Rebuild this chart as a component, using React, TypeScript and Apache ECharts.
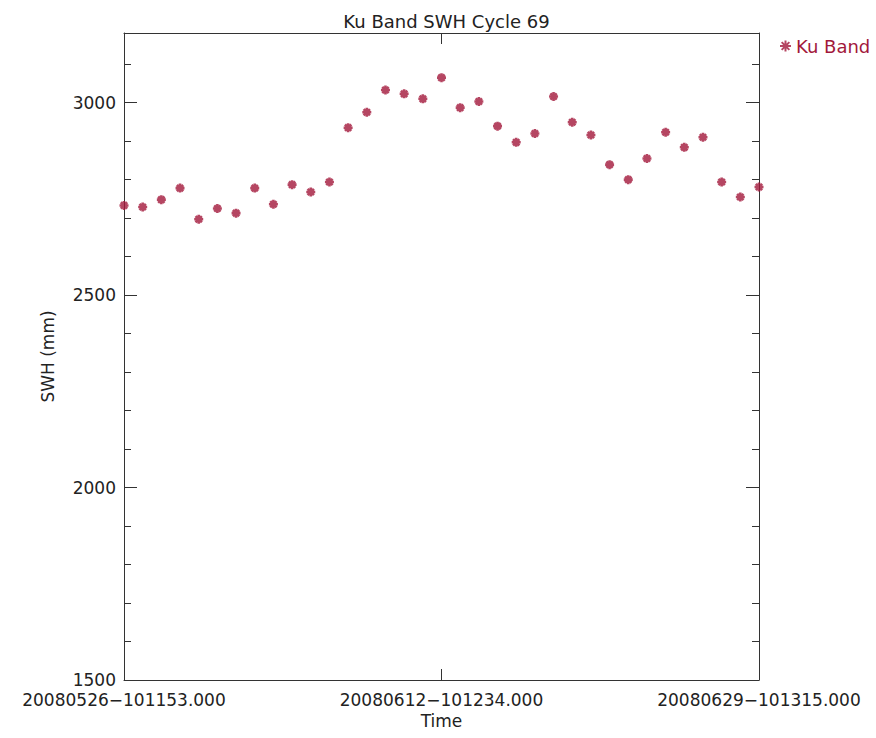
import React, { useEffect, useRef } from "react";
import * as echarts from "echarts";

const chartTitle = "Ku Band SWH Cycle 69";
const seriesName = "Ku Band";
const xAxisName = "Time";
const yAxisName = "SWH (mm)";

// one measurement per day index 0..34
const swhValues = [
  2733, 2729, 2748, 2778, 2697, 2725, 2713, 2778, 2736, 2787, 2768, 2794,
  2935, 2975, 3033, 3023, 3010, 3065, 2987, 3003, 2939, 2897, 2920, 3016,
  2949, 2916, 2839, 2800, 2855, 2923, 2884, 2910, 2794, 2755, 2781,
];

const xTickLabels = [
  "20080526\u2212101153.000",
  "20080612\u2212101234.000",
  "20080629\u2212101315.000",
];
const xTickStep = 17;
const xMax = 34;

const yTickLabels = ["1500", "2000", "2500", "3000"];
const yMin = 1500;
const yMax = 3181;
const yMajor = 500;
const yMinor = 100;

const RED = "#a2183b";
const AXIS = "#333333";
const TEXT = "#222222";
const FONT = "DejaVu Sans";
const STAR = "path://M0 4L8 4M4 0L4 8M1.2 1.2L6.8 6.8M6.8 1.2L1.2 6.8";

export default function App() {
  const ref = useRef<HTMLDivElement>(null);
  useEffect(() => {
    if (!ref.current) return;
    const chart = echarts.init(ref.current, undefined, { renderer: "svg" });
    const data = swhValues.map((v, i) => [i, v]);
    const lineStyle = { color: AXIS, width: 1 };
    const yLabelFmt = (v: number) => {
      const idx = yTickLabels.indexOf(String(Math.round(v)));
      return Math.abs(v - Math.round(v / yMajor) * yMajor) < 1e-6 && idx >= 0 ? yTickLabels[idx] : "";
    };
    chart.setOption({
      animation: false,
      backgroundColor: "#ffffff",
      title: {
        text: chartTitle,
        left: 441.5,
        textAlign: "center",
        top: 7,
        textStyle: { fontFamily: FONT, fontSize: 18, fontWeight: "normal", color: TEXT },
      },
      legend: {
        data: [seriesName],
        left: 774,
        top: 32,
        icon: STAR,
        itemWidth: 11,
        itemHeight: 11,
        itemGap: 4,
        textStyle: { fontFamily: FONT, fontSize: 18, color: RED },
      },
      grid: { left: 124, right: 117, top: 33, bottom: 58, containLabel: false },
      xAxis: [
        {
          type: "value",
          min: 0,
          max: xMax,
          interval: xTickStep,
          position: "bottom",
          name: xAxisName,
          nameLocation: "middle",
          nameGap: 29,
          nameTextStyle: { fontFamily: FONT, fontSize: 17, color: TEXT },
          axisLine: { show: true, lineStyle },
          axisTick: { show: true, inside: true, length: 11, lineStyle },
          axisLabel: {
            show: true,
            margin: 11,
            fontFamily: FONT,
            fontSize: 17,
            color: TEXT,
            showMinLabel: true,
            showMaxLabel: true,
            formatter: (v: number) => xTickLabels[Math.round(v / xTickStep)] ?? "",
          },
          splitLine: { show: false },
        },
        {
          type: "value",
          min: 0,
          max: xMax,
          interval: xTickStep,
          position: "top",
          axisLine: { show: true, lineStyle },
          axisTick: { show: true, inside: true, length: 11, lineStyle },
          axisLabel: { show: false },
          splitLine: { show: false },
        },
      ],
      yAxis: [
        {
          type: "value",
          min: yMin,
          max: yMax,
          interval: yMajor,
          position: "left",
          name: yAxisName,
          nameLocation: "middle",
          nameGap: 68,
          nameRotate: 90,
          nameTextStyle: { fontFamily: FONT, fontSize: 17, color: TEXT },
          axisLine: { show: true, lineStyle },
          axisTick: { show: true, inside: true, length: 13, lineStyle },
          axisLabel: {
            show: true,
            margin: 8,
            fontFamily: FONT,
            fontSize: 17,
            color: TEXT,
            padding: [0, 0, 5, 0],
            formatter: yLabelFmt,
          },
          splitLine: { show: false },
        },
        {
          type: "value",
          min: yMin,
          max: yMax,
          interval: yMinor,
          position: "left",
          axisLine: { show: false },
          axisTick: { show: true, inside: true, length: 7, lineStyle },
          axisLabel: { show: false },
          splitLine: { show: false },
        },
        {
          type: "value",
          min: yMin,
          max: yMax,
          interval: yMajor,
          position: "right",
          axisLine: { show: true, lineStyle },
          axisTick: { show: true, inside: true, length: 13, lineStyle },
          axisLabel: { show: false },
          splitLine: { show: false },
        },
        {
          type: "value",
          min: yMin,
          max: yMax,
          interval: yMinor,
          position: "right",
          axisLine: { show: false },
          axisTick: { show: true, inside: true, length: 7, lineStyle },
          axisLabel: { show: false },
          splitLine: { show: false },
        },
      ],
      series: [
        {
          name: seriesName,
          type: "scatter",
          xAxisIndex: 0,
          yAxisIndex: 0,
          data,
          symbol: STAR,
          symbolSize: 9,
          itemStyle: { color: RED, borderColor: RED, borderWidth: 2.6 },
        },
      ],
    });
    return () => chart.dispose();
  }, []);
  return (
    <div
      ref={ref}
      style={{ position: "absolute", left: 0, top: 0, width: 876, height: 738, background: "#fff" }}
    />
  );
}
